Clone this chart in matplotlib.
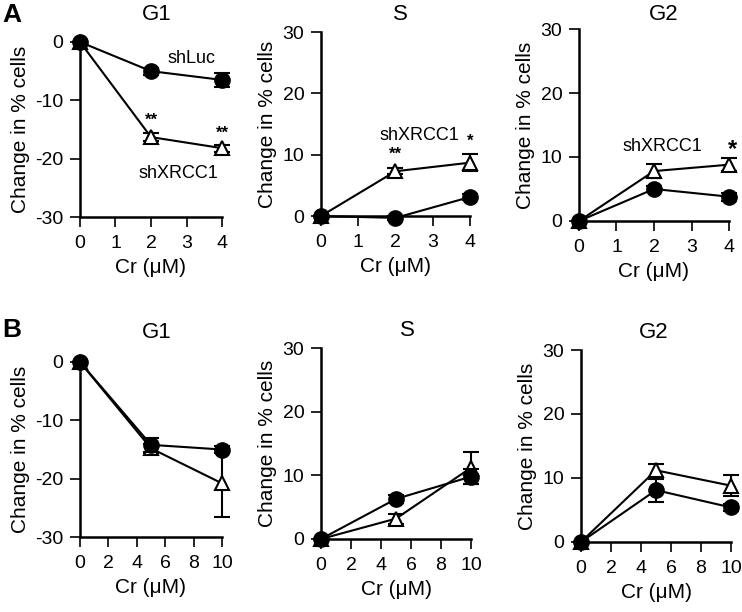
import matplotlib
matplotlib.use("Agg")
import matplotlib.pyplot as plt

plt.rcParams['font.family'] = ['Liberation Sans', 'DejaVu Sans']
plt.rcParams['axes.unicode_minus'] = False

# ---- Data ----
dose_A = [0, 2, 4]
dose_B = [0, 5, 10]

A_G1_luc = [0, -5.0, -6.5]
A_G1_luc_err = [0, 0.6, 1.2]
A_G1_xr = [0, -16.3, -18.2]
A_G1_xr_err = [0, 0.7, 0.6]

A_S_luc = [0, -0.3, 3.1]
A_S_luc_err = [0, 0.3, 0.5]
A_S_xr = [0, 7.3, 8.7]
A_S_xr_err = [0, 0.5, 1.4]

A_G2_luc = [0, 5.0, 3.8]
A_G2_luc_err = [0, 0.4, 0.6]
A_G2_xr = [0, 7.8, 8.8]
A_G2_xr_err = [0, 1.1, 1.0]

B_G1_luc = [0, -14.2, -15.0]
B_G1_luc_err = [0, 1.2, 0.6]
B_G1_xr = [0, -14.8, -20.8]
B_G1_xr_err = [0, 0.8, 5.7]

B_S_luc = [0, 6.3, 9.8]
B_S_luc_err = [0, 0.6, 1.2]
B_S_xr = [0, 3.2, 11.2]
B_S_xr_err = [0, 0.8, 2.5]

B_G2_luc = [0, 8.1, 5.4]
B_G2_luc_err = [0, 1.8, 0.6]
B_G2_xr = [0, 11.2, 8.8]
B_G2_xr_err = [0, 1.0, 1.6]

W, H = 742, 612
fig = plt.figure(figsize=(W / 100, H / 100), dpi=100)

positions = {
    'AG1': [0.1078, 0.6454, 0.1914, 0.286],
    'AS':  [0.4326, 0.6470, 0.2008, 0.3007],
    'AG2': [0.7803, 0.6389, 0.2022, 0.3137],
    'BG1': [0.1078, 0.1225, 0.1914, 0.286],
    'BS':  [0.4326, 0.1193, 0.2022, 0.312],
    'BG2': [0.7830, 0.1144, 0.2022, 0.3137],
}
# title centres in pixels (x, y from top)
title_pos = {
    'AG1': (157, 14), 'AS': (400, 14), 'AG2': (664, 15),
    'BG1': (157, 332), 'BS': (407, 330), 'BG2': (654, 333),
}

def panel(key, x, luc, luc_err, xr, xr_err, title, ylim, yticks, xticks):
    ax = fig.add_axes(positions[key])
    ax.errorbar(x, xr, yerr=xr_err, color='black', lw=1.5, marker='^', ms=10,
                mfc='white', mec='black', mew=1.5, capsize=6, capthick=1.5,
                elinewidth=1.5, clip_on=False, zorder=3)
    ax.errorbar(x, luc, yerr=luc_err, color='black', lw=1.5, marker='o', ms=11,
                mfc='black', mec='black', capsize=6, capthick=1.5,
                elinewidth=1.5, clip_on=False, zorder=4)
    ax.set_xlim(0, x[-1])
    ax.set_ylim(*ylim)
    ax.set_yticks(yticks)
    ax.set_xticks(xticks)
    ax.spines['top'].set_visible(False)
    ax.spines['right'].set_visible(False)
    for s in ['left', 'bottom']:
        ax.spines[s].set_linewidth(1.8)
    ax.tick_params(axis='both', direction='out', length=7, width=1.2,
                   labelsize=14)
    ax.tick_params(axis='x', pad=6)
    ax.tick_params(axis='y', pad=5)
    ax.set_xlabel('Cr (\u03bcM)', fontsize=15, labelpad=4)
    ax.set_ylabel('Change in % cells', fontsize=15, labelpad=4)
    tx, ty = title_pos[key]
    fig.text(tx / W, 1 - ty / H, title, fontsize=16, ha='center', va='center')
    ax.patch.set_visible(False)
    return ax

ax1 = panel('AG1', dose_A, A_G1_luc, A_G1_luc_err, A_G1_xr, A_G1_xr_err,
            'G1', (-30, 0), [-30, -20, -10, 0], [0, 1, 2, 3, 4])
ax1.text(3.15, -2.9, 'shLuc', fontsize=13, ha='center', va='center')
ax1.text(2.76, -22.6, 'shXRCC1', fontsize=13, ha='center', va='center')
ax1.text(2, -13.4, '**', fontsize=12, fontweight='bold', ha='center', va='center')
ax1.text(4, -15.6, '**', fontsize=12, fontweight='bold', ha='center', va='center')

ax2 = panel('AS', dose_A, A_S_luc, A_S_luc_err, A_S_xr, A_S_xr_err,
            'S', (0, 30), [0, 10, 20, 30], [0, 1, 2, 3, 4])
ax2.text(2.63, 13.2, 'shXRCC1', fontsize=13, ha='center', va='center')
ax2.text(2, 10.0, '**', fontsize=12, fontweight='bold', ha='center', va='center')
ax2.text(4, 12.2, '*', fontsize=12, fontweight='bold', ha='center', va='center')

ax3 = panel('AG2', dose_A, A_G2_luc, A_G2_luc_err, A_G2_xr, A_G2_xr_err,
            'G2', (0, 30), [0, 10, 20, 30], [0, 1, 2, 3, 4])
ax3.text(2.21, 11.6, 'shXRCC1', fontsize=13, ha='center', va='center')
ax3.text(4.1, 11.2, '*', fontsize=17, fontweight='bold', ha='center', va='center')

panel('BG1', dose_B, B_G1_luc, B_G1_luc_err, B_G1_xr, B_G1_xr_err,
      'G1', (-30, 0), [-30, -20, -10, 0], [0, 2, 4, 6, 8, 10])
panel('BS', dose_B, B_S_luc, B_S_luc_err, B_S_xr, B_S_xr_err,
      'S', (0, 30), [0, 10, 20, 30], [0, 2, 4, 6, 8, 10])
panel('BG2', dose_B, B_G2_luc, B_G2_luc_err, B_G2_xr, B_G2_xr_err,
      'G2', (0, 30), [0, 10, 20, 30], [0, 2, 4, 6, 8, 10])

fig.text(0.003, 0.995, 'A', fontsize=19, fontweight='bold', ha='left', va='top')
fig.text(0.003, 0.48, 'B', fontsize=19, fontweight='bold', ha='left', va='top')

fig.savefig('out.png', dpi=100)
